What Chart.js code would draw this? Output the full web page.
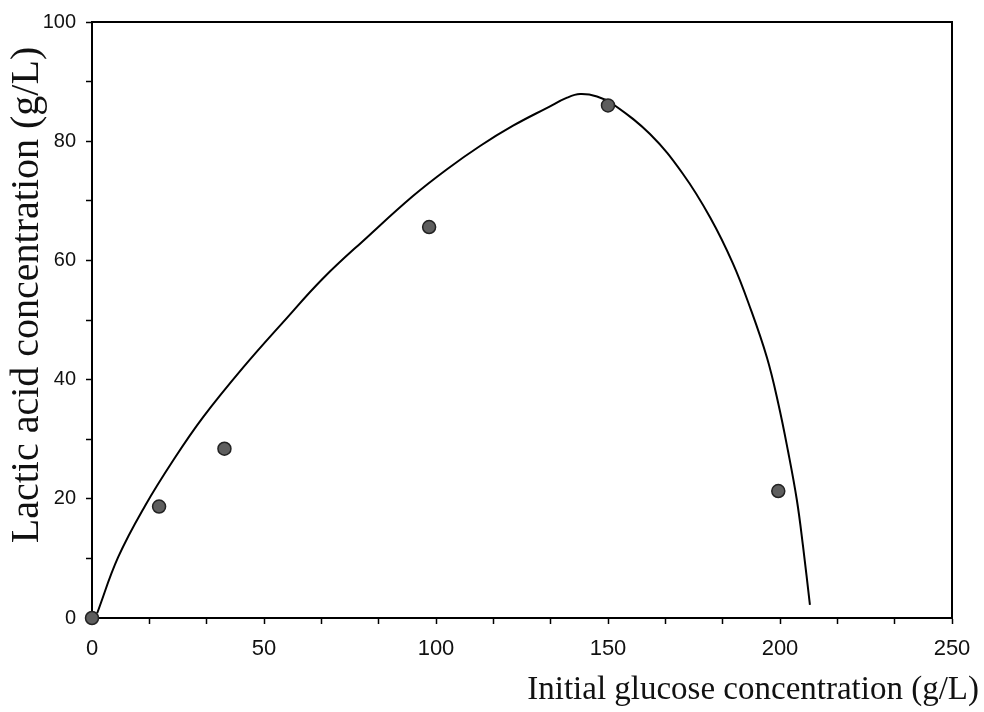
<!DOCTYPE html>
<html>
<head>
<meta charset="utf-8">
<script src="https://cdn.jsdelivr.net/npm/chart.js@4.4.1/dist/chart.umd.min.js"></script>
<style>
  html, body { margin: 0; padding: 0; background: #fff; }
</style>
</head>
<body>
<canvas id="chart" width="984" height="712"></canvas>
<script>
// measured points
const glucose = [0, 19.5, 38.5, 98, 150, 199.5];
const lactic = [0, 18.7, 28.4, 65.6, 86.0, 21.3];

// fitted curve
const fitX = [1.5, 7.6, 15.4, 24, 32.3, 43.9, 55.5, 67.2, 80, 93.3, 103.2, 112.8, 122.4, 132.3, 138.1, 141.9, 146.8, 151.5, 162.2, 171.8, 179.7, 186.3, 191.3, 196.2, 199.5, 202.3, 204.9, 206.7, 208.7];
const fitY = [0.8, 10.2, 18.8, 26.8, 33.7, 42.0, 49.6, 57.0, 63.9, 70.8, 75.3, 79.2, 82.6, 85.6, 87.3, 87.9, 87.5, 86.2, 81.2, 74.5, 67.2, 59.5, 52.1, 43.7, 36.0, 28.1, 19.8, 12.0, 2.2];

// axis ticks
const xTicks = [0, 50, 100, 150, 200, 250];
const yTicks = [0, 20, 40, 60, 80, 100];
const xTitle = "Initial glucose concentration (g/L)";
const yTitle = "Lactic acid concentration (g/L)";

// major ticks plus minor ones in between (x: 2 minors, y: 1 minor)
function withMinors(major, parts) {
  const out = [];
  for (let i = 0; i < major.length; i++) {
    out.push(major[i]);
    if (i < major.length - 1) {
      const step = (major[i + 1] - major[i]) / parts;
      for (let k = 1; k < parts; k++) out.push(major[i] + k * step);
    }
  }
  return out;
}
const isMajor = (list, v) => list.some(t => Math.abs(t - v) < 1e-6);

const axisTitles = {
  id: 'axisTitles',
  afterDraw(chart) {
    const ctx = chart.ctx;
    const area = chart.chartArea;
    ctx.save();
    ctx.fillStyle = '#111';
    ctx.font = '33px "Liberation Serif"';
    ctx.textAlign = 'right';
    ctx.textBaseline = 'middle';
    ctx.fillText(xTitle, area.right + 27, area.bottom + 72);
    ctx.translate(27, area.top + 273);
    ctx.rotate(-Math.PI / 2);
    ctx.textAlign = 'center';
    ctx.font = '40px "Liberation Serif"';
    ctx.fillText(yTitle, 0, 0);
    ctx.restore();
  }
};

const ctx = document.getElementById('chart');
new Chart(ctx, {
  data: {
    datasets: [{
      type: 'scatter',
      data: glucose.map((x, i) => ({ x: x, y: lactic[i] })),
      pointRadius: 6.5,
      backgroundColor: '#5e5e5e',
      borderColor: '#222',
      borderWidth: 1.5,
      clip: false,
      order: 0
    }, {
      type: 'line',
      data: fitX.map((x, i) => ({ x: x, y: fitY[i] })),
      borderColor: '#000',
      borderWidth: 2,
      pointRadius: 0,
      fill: false,
      tension: 0.4,
      order: 1
    }]
  },
  options: {
    responsive: false,
    animation: false,
    devicePixelRatio: 1,
    layout: { padding: { top: 21, right: 32, bottom: 0, left: 0 } },
    plugins: { legend: { display: false }, tooltip: { enabled: false } },
    scales: {
      x: {
        type: 'linear',
        position: 'bottom',
        min: 0,
        max: 250,
        afterBuildTicks: s => { s.ticks = withMinors(xTicks, 3).map(v => ({ value: v })); },
        afterFit: s => { s.height = 94; },
        ticks: {
          autoSkip: false,
          maxRotation: 0,
          padding: 12,
          color: '#111',
          font: { family: 'Liberation Sans', size: 22 },
          callback: v => isMajor(xTicks, v) ? String(Math.round(v)) : ''
        },
        grid: { drawOnChartArea: false, tickLength: 6, color: '#000', tickWidth: 1.5 },
        border: { color: '#000', width: 2 }
      },
      y: {
        type: 'linear',
        position: 'left',
        min: 0,
        max: 100,
        afterBuildTicks: s => { s.ticks = withMinors(yTicks, 2).map(v => ({ value: v })); },
        afterFit: s => { s.width = 92; },
        ticks: {
          autoSkip: false,
          padding: 10,
          color: '#111',
          font: { family: 'Liberation Sans', size: 20 },
          callback: v => isMajor(yTicks, v) ? String(Math.round(v)) : ''
        },
        grid: { drawOnChartArea: false, tickLength: 6, color: '#000', tickWidth: 1.5 },
        border: { color: '#000', width: 2 }
      },
      x2: {
        type: 'linear',
        position: 'top',
        min: 0,
        max: 250,
        ticks: { display: false },
        grid: { display: false },
        afterFit: s => { s.height = 0; },
        border: { color: '#000', width: 2 }
      },
      y2: {
        type: 'linear',
        position: 'right',
        min: 0,
        max: 100,
        ticks: { display: false },
        grid: { display: false },
        afterFit: s => { s.width = 0; },
        border: { color: '#000', width: 2 }
      }
    }
  },
  plugins: [axisTitles]
});
</script>
</body>
</html>
